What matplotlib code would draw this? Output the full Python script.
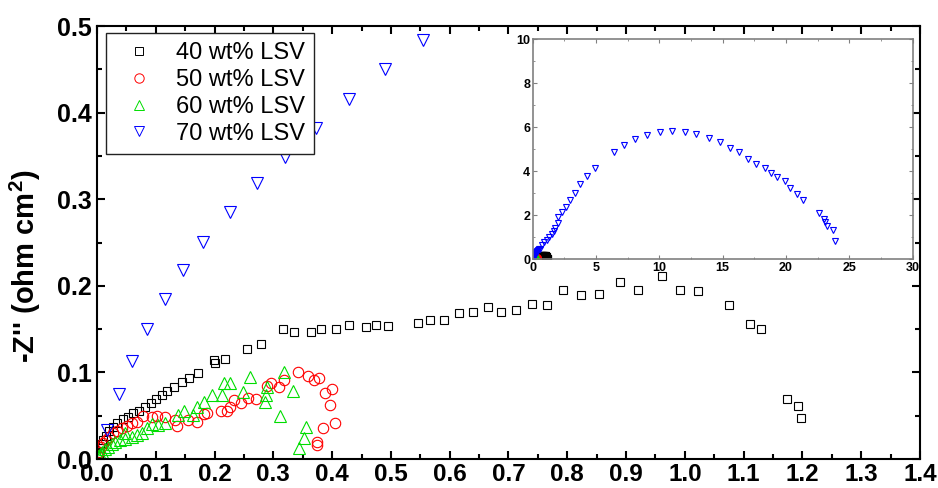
import numpy as np
import matplotlib
matplotlib.use("Agg")
from matplotlib import pyplot as plt
from matplotlib.ticker import MultipleLocator

plt.rcParams['font.family'] = ['Liberation Sans', 'DejaVu Sans']
plt.rcParams['mathtext.fontset'] = 'custom'
plt.rcParams['mathtext.rm'] = 'Liberation Sans:bold'
plt.rcParams['mathtext.default'] = 'rm'

# 40 wt% LSV
x40 = [0.0034, 0.0051, 0.008, 0.0107, 0.0153, 0.021, 0.0277, 0.0345, 0.0447, 0.0533,
       0.0617, 0.072, 0.0816, 0.0913, 0.1003, 0.11, 0.1185, 0.1315, 0.144, 0.157,
       0.1723, 0.1995, 0.2007, 0.2177, 0.2546, 0.279, 0.3168, 0.3356, 0.3634, 0.381,
       0.4065, 0.4291, 0.4575, 0.474, 0.4944, 0.5454, 0.5663, 0.5907, 0.6163, 0.64,
       0.6655, 0.6866, 0.7126, 0.7392, 0.7653, 0.793, 0.8226, 0.8543, 0.8895, 0.9195,
       0.9603, 0.9915, 1.0226, 1.0748, 1.1105, 1.1298, 1.174, 1.1933, 1.1968]
y40 = [0.0073, 0.0123, 0.0173, 0.0219, 0.0269, 0.0323, 0.0373, 0.0412, 0.0458, 0.0488,
       0.0527, 0.0557, 0.0603, 0.065, 0.0692, 0.0738, 0.0788, 0.0834, 0.0888, 0.0938,
       0.0988, 0.1142, 0.1104, 0.1153, 0.1272, 0.1323, 0.1496, 0.1461, 0.1468, 0.1503,
       0.1507, 0.1542, 0.1526, 0.1542, 0.1531, 0.1572, 0.16, 0.1603, 0.1688, 0.1696,
       0.1757, 0.1692, 0.1719, 0.1795, 0.1784, 0.1957, 0.1895, 0.19, 0.2042, 0.1957,
       0.2119, 0.1957, 0.1938, 0.1784, 0.1554, 0.1507, 0.0689, 0.0611, 0.0469]

# 50 wt% LSV
x50 = [0.0005, 0.0029, 0.0063, 0.0107, 0.0153, 0.021, 0.0277, 0.0345, 0.042, 0.0505,
       0.059, 0.0675, 0.0777, 0.093, 0.1026, 0.1156, 0.1327, 0.1355, 0.1553, 0.1696,
       0.182, 0.1865, 0.2109, 0.2206, 0.2262, 0.2335, 0.2444, 0.2573, 0.2704, 0.2886,
       0.2959, 0.31, 0.3186, 0.3413, 0.3594, 0.3696, 0.378, 0.3878, 0.3991, 0.3963,
       0.4048, 0.3849, 0.3747, 0.3747]
y50 = [0.0046, 0.0084, 0.0135, 0.0181, 0.0219, 0.0257, 0.0296, 0.0323, 0.0354, 0.038,
       0.0412, 0.043, 0.0496, 0.0481, 0.0496, 0.0481, 0.045, 0.0384, 0.045, 0.043,
       0.0519, 0.0534, 0.0554, 0.0554, 0.0603, 0.068, 0.065, 0.07, 0.0692, 0.0842,
       0.088, 0.0827, 0.0911, 0.1, 0.0957, 0.0911, 0.0931, 0.0765, 0.0807, 0.0623,
       0.0412, 0.0354, 0.02, 0.0161]

# 60 wt% LSV
x60 = [0.0022, 0.0051, 0.009, 0.0136, 0.0192, 0.025, 0.0306, 0.0391, 0.0476, 0.0476,
       0.059, 0.0675, 0.076, 0.0845, 0.093, 0.1043, 0.1156, 0.1383, 0.1485, 0.1638,
       0.1696, 0.182, 0.1961, 0.212, 0.2165, 0.2262, 0.2488, 0.2602, 0.2857, 0.2874,
       0.2886, 0.3112, 0.318, 0.3339, 0.3554, 0.3526, 0.344]
y60 = [0.0035, 0.0058, 0.0084, 0.0115, 0.0142, 0.017, 0.02, 0.0219, 0.0227, 0.0296,
       0.025, 0.0277, 0.0304, 0.0354, 0.0404, 0.0392, 0.0412, 0.0508, 0.0554, 0.0508,
       0.0596, 0.0661, 0.0738, 0.0738, 0.0873, 0.0873, 0.0776, 0.0949, 0.0661, 0.0738,
       0.0827, 0.05, 0.1007, 0.0788, 0.0373, 0.0239, 0.013]

# 70 wt% LSV (full arc, most of it only inside the inset range)
x70 = [0.0165, 0.0374, 0.06, 0.085, 0.116, 0.146, 0.18, 0.2262, 0.2721, 0.3197,
       0.3724, 0.4286, 0.4898, 0.5544, 0.74, 0.92, 1.13, 1.32, 1.53, 1.71,
       1.79, 1.97, 2.03, 2.32, 2.63, 2.97, 3.37, 3.76, 4.29, 4.89,
       6.39, 7.18, 8.05, 9.05, 10.05, 10.97, 12.0, 12.9, 13.9, 14.8,
       15.6, 16.3, 17.0, 17.6, 18.3, 18.8, 19.3, 19.9, 20.3, 20.9,
       21.3, 22.6, 22.97, 23.1, 23.2, 23.7, 23.9]
y70 = [0.034, 0.075, 0.113, 0.15, 0.185, 0.218, 0.251, 0.2849, 0.3183, 0.3483,
       0.3818, 0.4152, 0.4498, 0.4833, 0.65, 0.77, 0.88, 1.0, 1.15, 1.3,
       1.44, 1.63, 1.92, 2.13, 2.36, 2.68, 3.03, 3.42, 3.77, 4.16,
       4.87, 5.2, 5.48, 5.66, 5.78, 5.81, 5.78, 5.7, 5.51, 5.31,
       5.07, 4.87, 4.57, 4.33, 4.13, 3.9, 3.72, 3.56, 3.22, 2.97,
       2.69, 2.12, 1.82, 1.68, 1.53, 1.33, 0.82]

labels = ['40 wt% LSV', '50 wt% LSV', '60 wt% LSV', '70 wt% LSV']
series = [(x40, y40), (x50, y50), (x60, y60), (x70, y70)]
colors = ['black', 'red', '#00dd00', 'blue']
markers = ['s', 'o', '^', 'v']
sizes = [6, 7.5, 8, 8]

fig = plt.figure(figsize=(9.38, 4.88), dpi=100)
ax = fig.add_axes([0.1034, 0.0594, 0.8774, 0.8873])

for (xs, ys), c, m, s, lab in zip(series, colors, markers, sizes, labels):
    ax.plot(xs, ys, linestyle='none', marker=m, ms=s, mfc='none', mec=c,
            mew=0.8, label=lab)

ax.set_xlim(0, 1.4)
ax.set_ylim(0, 0.5)
ax.xaxis.set_major_locator(MultipleLocator(0.1))
ax.xaxis.set_minor_locator(MultipleLocator(0.05))
ax.yaxis.set_major_locator(MultipleLocator(0.1))
ax.yaxis.set_minor_locator(MultipleLocator(0.05))
ax.tick_params(which='both', direction='in', top=True, right=True, width=1.5)
ax.tick_params(which='major', length=6)
ax.tick_params(axis='x', which='major', pad=3, labelsize=17.5)
ax.tick_params(axis='y', which='major', pad=4, labelsize=18)
ax.tick_params(which='minor', length=3.5)
for lab in ax.get_xticklabels() + ax.get_yticklabels():
    lab.set_fontweight('bold')
for sp in ax.spines.values():
    sp.set_linewidth(1.5)
ax.set_ylabel("-Z'' (ohm cm$^{2}$)", fontsize=21, fontweight='bold')
ax.yaxis.set_label_coords(-0.066, 0.446)

leg = ax.legend(loc='upper left', fontsize=17, frameon=True, fancybox=False,
                framealpha=1, edgecolor='#222222', markerscale=0.9,
                handlelength=2.0, handletextpad=0.55, borderpad=0.4,
                labelspacing=0.2, borderaxespad=0,
                bbox_to_anchor=(0.011, 0.984))
leg.get_frame().set_linewidth(1.0)
for h in leg.legend_handles:
    h.set_markeredgewidth(0.7)

# inset with the whole impedance range
ins = fig.add_axes([0.568, 0.4686, 0.405, 0.4514])
for (xs, ys), c, m in zip(series, colors, markers):
    ins.plot(xs, ys, linestyle='none', marker=m, ms=3.8, mfc='none', mec=c, mew=0.8)
ins.set_xlim(0, 30)
ins.set_ylim(0, 10)
ins.xaxis.set_major_locator(MultipleLocator(5))
ins.yaxis.set_major_locator(MultipleLocator(2))
ins.yaxis.set_minor_locator(MultipleLocator(1))
ins.xaxis.set_minor_locator(MultipleLocator(2.5))
ins.tick_params(which='both', direction='in', top=True, right=True, color='#808080')
ins.tick_params(which='major', length=3, labelsize=9, pad=2)
ins.tick_params(which='minor', length=1.5)
for lab in ins.get_xticklabels() + ins.get_yticklabels():
    lab.set_fontweight('bold')
for sp in ins.spines.values():
    sp.set_color('#808080')
    sp.set_linewidth(1.2)

fig.savefig('out.png', dpi=100)
